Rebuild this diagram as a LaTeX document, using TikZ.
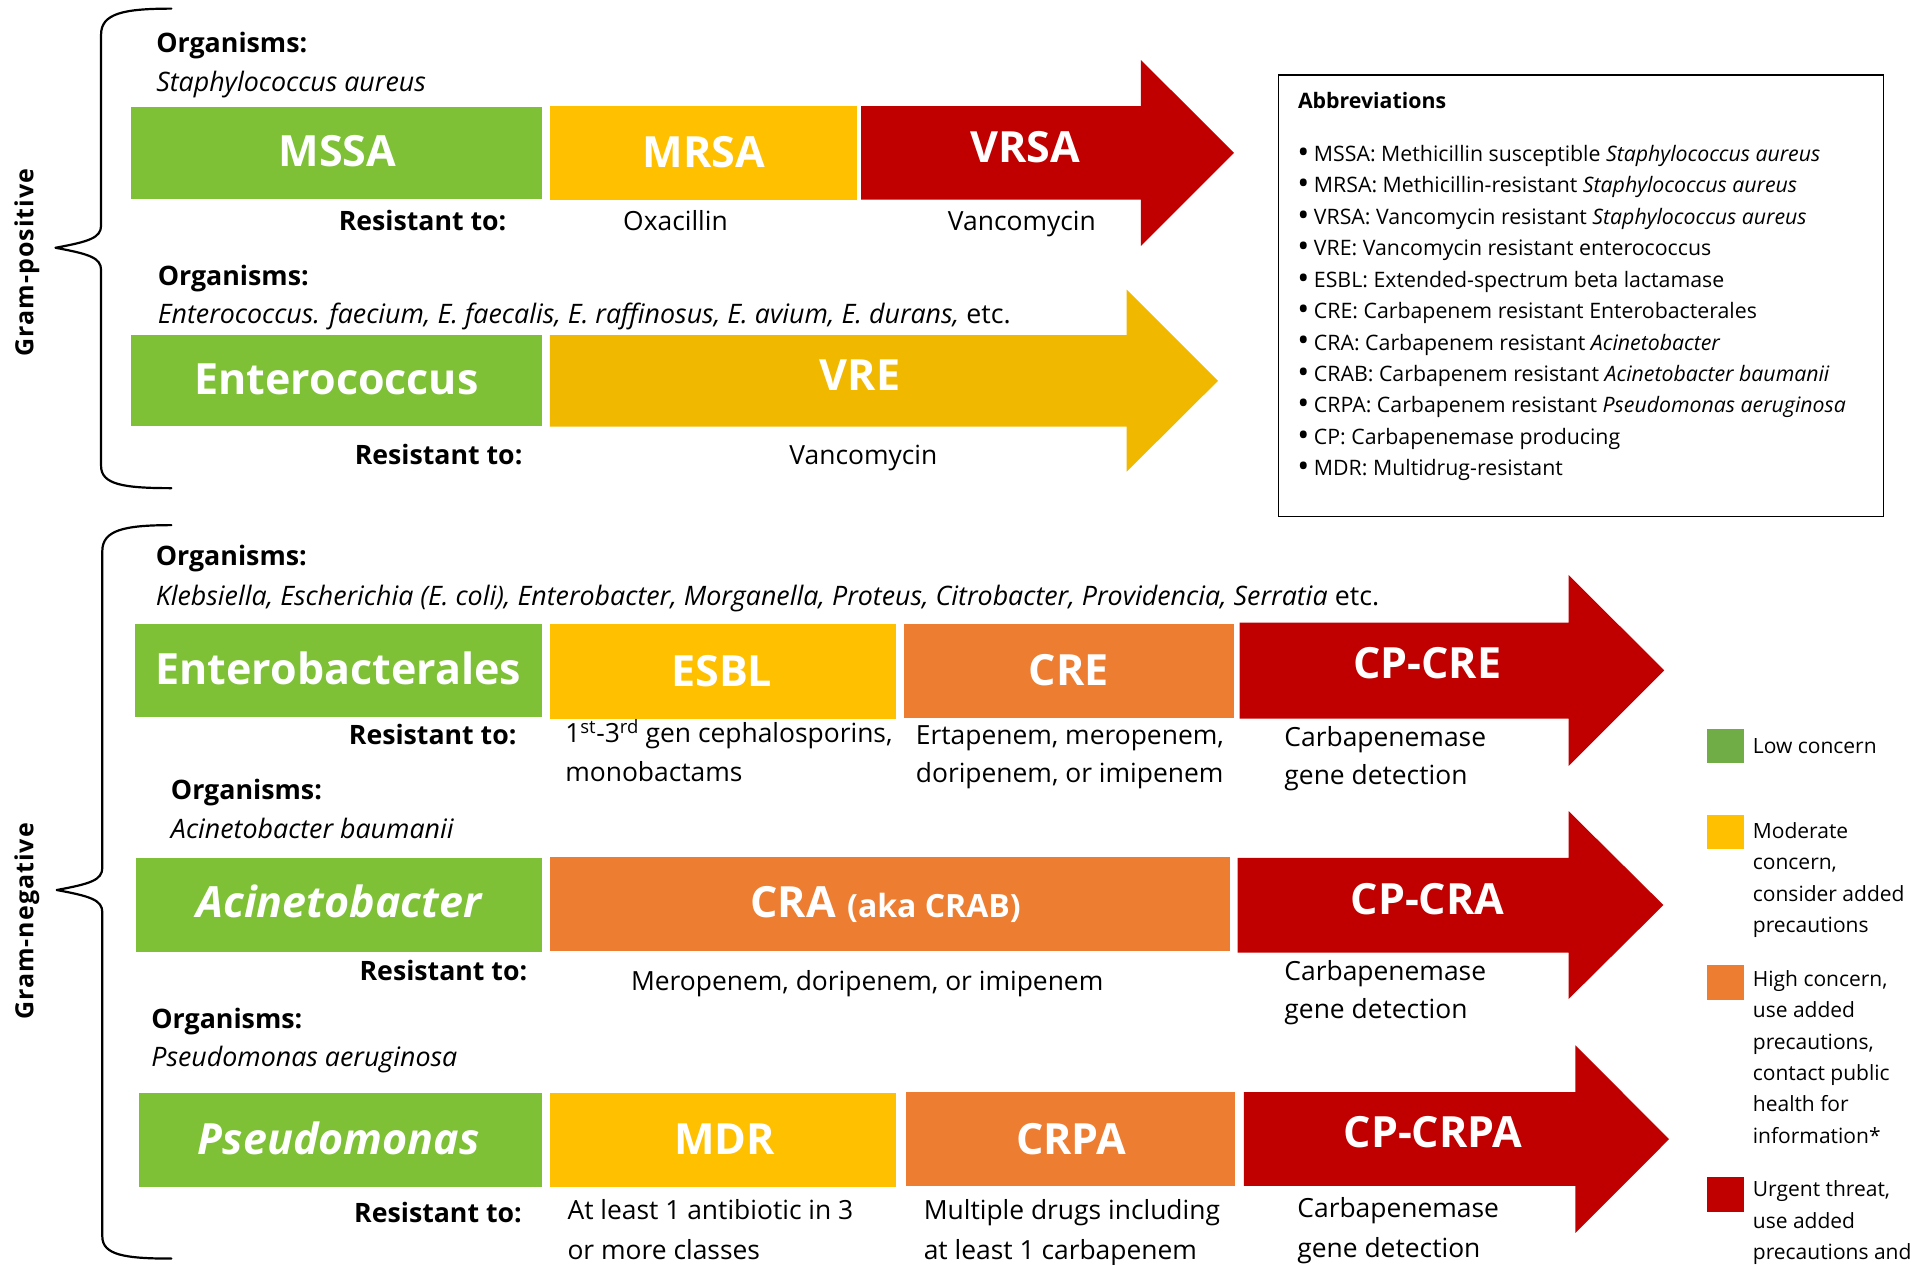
\documentclass[tikz,border=0pt]{standalone}
\usepackage{fontspec}
\setmainfont{Open Sans}
\newfontfamily\gramfont[LetterSpace=4]{Open Sans}
\definecolor{bgreen}{HTML}{7EC136}
\definecolor{byellow}{HTML}{FFC000}
\definecolor{vreyellow}{HTML}{F1B800}
\definecolor{borange}{HTML}{ED7D31}
\definecolor{bred}{HTML}{C00000}
\definecolor{lgreen}{HTML}{70AD47}
\newcommand{\abbrbullet}{\raisebox{-1.8pt}{\fontsize{32}{32}\selectfont\textbullet}\hspace{4.5pt}}
\begin{document}
\begin{tikzpicture}[x=1.2327pt,y=-1.2327pt,
  every node/.style={inner sep=0pt,outer sep=0pt},
  boxlabel/.style={font=\fontsize{43}{50}\selectfont\bfseries,text=white,anchor=base},
  orgtitle/.style={font=\fontsize{26.8}{30}\selectfont\bfseries,anchor=base west},
  orgtext/.style={font=\fontsize{26.8}{30}\selectfont\itshape,anchor=base west},
  restitle/.style={font=\fontsize{26.7}{30}\selectfont\bfseries,anchor=base east},
  restext/.style={font=\fontsize{26.4}{30}\selectfont,anchor=base west},
  rescenter/.style={font=\fontsize{26.4}{30}\selectfont,anchor=base},
  abbr/.style={font=\fontsize{21.3}{24}\selectfont,anchor=base west},
  legtext/.style={font=\fontsize{21}{24}\selectfont,anchor=base west},
  gram/.style={font=\gramfont\fontsize{25}{28}\selectfont\bfseries,rotate=90,anchor=base},
  brace/.style={line width=2.2pt,line cap=round,line join=round}
]
\useasboundingbox (0,0) rectangle (1560,1026.2);

% ---------------- braces and group labels
\draw[brace] (139,7) .. controls (100,7) and (82,11) .. (82,28) -- (82,183)
  .. controls (82,193) and (72,196) .. (45,201)
  .. controls (72,206) and (82,209) .. (82,219) -- (82,378)
  .. controls (82,393) and (100,396) .. (139,396);
\node[gram] (gp) at (27,213) {Gram-positive};

\draw[brace] (139,426) .. controls (101,426) and (83,430) .. (83,447) -- (83,704)
  .. controls (83,714) and (73,717) .. (46,722)
  .. controls (73,727) and (83,730) .. (83,740) -- (83,1003)
  .. controls (83,1018) and (101,1021) .. (139,1021);
\node[gram] (gn) at (27,747.5) {Gram-negative};

% ---------------- Staphylococcus row
\node[orgtitle] (org1) at (126.8,42.7) {Organisms:};
\node[orgtext] (sp1) at (126.8,74.4) {Staphylococcus aureus};
\fill[bgreen] (106,86.5) rectangle (439.4,161.4);
\fill[byellow] (446,86) rectangle (695,162);
\fill[bred] (698.6,86) -- (925.6,86) -- (925.6,48.7) -- (1001,124) -- (925.6,199.5) -- (925.6,162) -- (698.6,162) -- cycle;
\node[boxlabel] (mssa) at (273.7,135.2) {MSSA};
\node[boxlabel] (mrsa) at (571,136) {MRSA};
\node[boxlabel] (vrsa) at (831.7,132) {VRSA};
\node[restitle] (res1) at (410.8,187.1) {Resistant to:};
\node[rescenter] (oxa) at (548,187.1) {Oxacillin};
\node[rescenter] (van1) at (829,187.1) {Vancomycin};

% ---------------- Enterococcus row
\node[orgtitle] (org2) at (128,231.2) {Organisms:};
\node[orgtext] (sp2) at (128,262.3) {Enterococcus. faecium, E. faecalis, E. raffinosus, E. avium, E. durans, \upshape etc.};
\fill[bgreen] (106,271.8) rectangle (439.4,345.6);
\fill[vreyellow] (446,271.8) -- (914,271.8) -- (914,235) -- (988,309) -- (914,382.6) -- (914,346) -- (446,346) -- cycle;
\node[boxlabel] (ent) at (273,320.4) {Enterococcus};
\node[boxlabel] (vre) at (697.8,316.9) {VRE};
\node[restitle] (res2) at (423.8,376.7) {Resistant to:};
\node[rescenter] (van2) at (700.4,376.7) {Vancomycin};

% ---------------- Abbreviations box
\draw[line width=1.5pt] (1037,61) rectangle (1528,419);
\node[abbr,font=\fontsize{21.3}{24}\selectfont\bfseries] (abbrt) at (1053,88) {Abbreviations};
\foreach \t [count=\i from 0] in {
  {MSSA: Methicillin susceptible \textit{Staphylococcus aureus}},
  {MRSA: Methicillin-resistant \textit{Staphylococcus aureus}},
  {VRSA: Vancomycin resistant \textit{Staphylococcus aureus}},
  {VRE: Vancomycin resistant enterococcus},
  {ESBL: Extended-spectrum beta lactamase},
  {CRE: Carbapenem resistant Enterobacterales},
  {CRA: Carbapenem resistant \textit{Acinetobacter}},
  {CRAB: Carbapenem resistant \textit{Acinetobacter baumanii}},
  {CRPA: Carbapenem resistant \textit{Pseudomonas aeruginosa}},
  {CP: Carbapenemase producing},
  {MDR: Multidrug-resistant}}
  \node[abbr] (ab\i) at (1052.5,131+25.5*\i) {\abbrbullet\t};

% ---------------- Enterobacterales row
\node[orgtitle] (org3) at (126.4,458.6) {Organisms:};
\node[orgtext] (sp3) at (126.4,490.8) {Klebsiella, Escherichia (E. coli), Enterobacter, Morganella, Proteus, Citrobacter, Providencia, Serratia \upshape etc.};
\fill[bgreen] (109.6,506.6) rectangle (440,581.4);
\fill[byellow] (446,506.6) rectangle (727,583);
\fill[borange] (733.5,505.9) rectangle (1001,582.2);
\fill[bred] (1005.6,505) -- (1272.5,505) -- (1272.5,466.4) -- (1350,543.8) -- (1272.5,621.3) -- (1272.5,583) -- (1005.6,583) -- cycle;
\node[boxlabel] (entb) at (274.4,555.5) {Enterobacterales};
\node[boxlabel] (esbl) at (585.5,556.6) {ESBL};
\node[boxlabel] (cre) at (867,556.2) {CRE};
\node[boxlabel] (cpcre) at (1157.7,550.8) {CP-CRE};
\node[restitle] (res3) at (419,603.9) {Resistant to:};
\node[restext] (esbl1) at (458.6,602.5) {1\textsuperscript{st}-3\textsuperscript{rd} gen cephalosporins,};
\node[restext] (esbl2) at (458.6,633.7) {monobactams};
\node[restext] (cre1) at (743,603.9) {Ertapenem, meropenem,};
\node[restext] (cre2) at (743,634.9) {doripenem, or imipenem};
\node[restext] (cpcre1) at (1042,605.8) {Carbapenemase};
\node[restext] (cpcre2) at (1042,636.8) {gene detection};

% ---------------- Acinetobacter row
\node[orgtitle] (org4) at (138.7,648.4) {Organisms:};
\node[orgtext] (sp4) at (138.7,680.6) {Acinetobacter baumanii};
\fill[bgreen] (110.5,695.7) rectangle (440,772.4);
\fill[borange] (446,695) rectangle (997.7,771.6);
\fill[bred] (1004,696) -- (1272.5,696) -- (1272.5,658) -- (1349.4,734.2) -- (1272.5,810.4) -- (1272.5,772.8) -- (1004,772.8) -- cycle;
\node[boxlabel,font=\fontsize{43}{50}\selectfont\bfseries\itshape] (acin) at (274.8,744.5) {Acinetobacter};
\node[boxlabel] (cra) at (718.5,744.5) {CRA {\fontsize{32}{34}\selectfont (aka CRAB)}};
\node[boxlabel] (cpcra) at (1158,741.8) {CP-CRA};
\node[restitle] (res4) at (427.7,795.6) {Resistant to:};
\node[rescenter] (cra1) at (703.5,803.4) {Meropenem, doripenem, or imipenem};
\node[restext] (cpcra1) at (1042,795.6) {Carbapenemase};
\node[restext] (cpcra2) at (1042,826.6) {gene detection};

% ---------------- Pseudomonas row
\node[orgtitle] (org5) at (122.8,834.4) {Organisms:};
\node[orgtext] (sp5) at (122.8,865.4) {Pseudomonas aeruginosa};
\fill[bgreen] (113,886.7) rectangle (440,963);
\fill[byellow] (446,886.7) rectangle (727,963);
\fill[borange] (735,886) rectangle (1002,962.2);
\fill[bred] (1009,886) -- (1278,886) -- (1278,848) -- (1354,924.1) -- (1278,1000.2) -- (1278,962) -- (1009,962) -- cycle;
\node[boxlabel,font=\fontsize{43}{50}\selectfont\bfseries\itshape] (pseu) at (274.9,936.3) {Pseudomonas};
\node[boxlabel] (mdr) at (587.7,936.3) {MDR};
\node[boxlabel] (crpa) at (869,936.3) {CRPA};
\node[boxlabel] (cpcrpa) at (1162.5,931.2) {CP-CRPA};
\node[restitle] (res5) at (423.3,992) {Resistant to:};
\node[restext] (mdr1) at (460.4,989.3) {At least 1 antibiotic in 3};
\node[restext] (mdr2) at (460.4,1021.5) {or more classes};
\node[restext] (crpa1) at (749.4,989.3) {Multiple drugs including};
\node[restext] (crpa2) at (749.4,1021.5) {at least 1 carbapenem};
\node[restext] (cpcrpa1) at (1052.5,988) {Carbapenemase};
\node[restext] (cpcrpa2) at (1052.5,1020.4) {gene detection};

% ---------------- Legend
\fill[lgreen] (1385,591) rectangle (1415,619);
\fill[byellow] (1385,661) rectangle (1415,689);
\fill[borange] (1385,783) rectangle (1415,811);
\fill[bred] (1385,955) rectangle (1415,983);
\node[legtext] (lg0) at (1422,611) {Low concern};
\foreach \t [count=\i from 0] in {Moderate,{concern,},consider added,precautions}
  \node[legtext] (lm\i) at (1422,680+25.5*\i) {\t};
\foreach \t [count=\i from 0] in {{High concern,},use added,{precautions,},contact public,health for,information*}
  \node[legtext] (lh\i) at (1422,800+25.5*\i) {\t};
\foreach \t [count=\i from 0] in {{Urgent threat,},use added,precautions and}
  \node[legtext] (lu\i) at (1422,971+25.5*\i) {\t};
\end{tikzpicture}
\end{document}
